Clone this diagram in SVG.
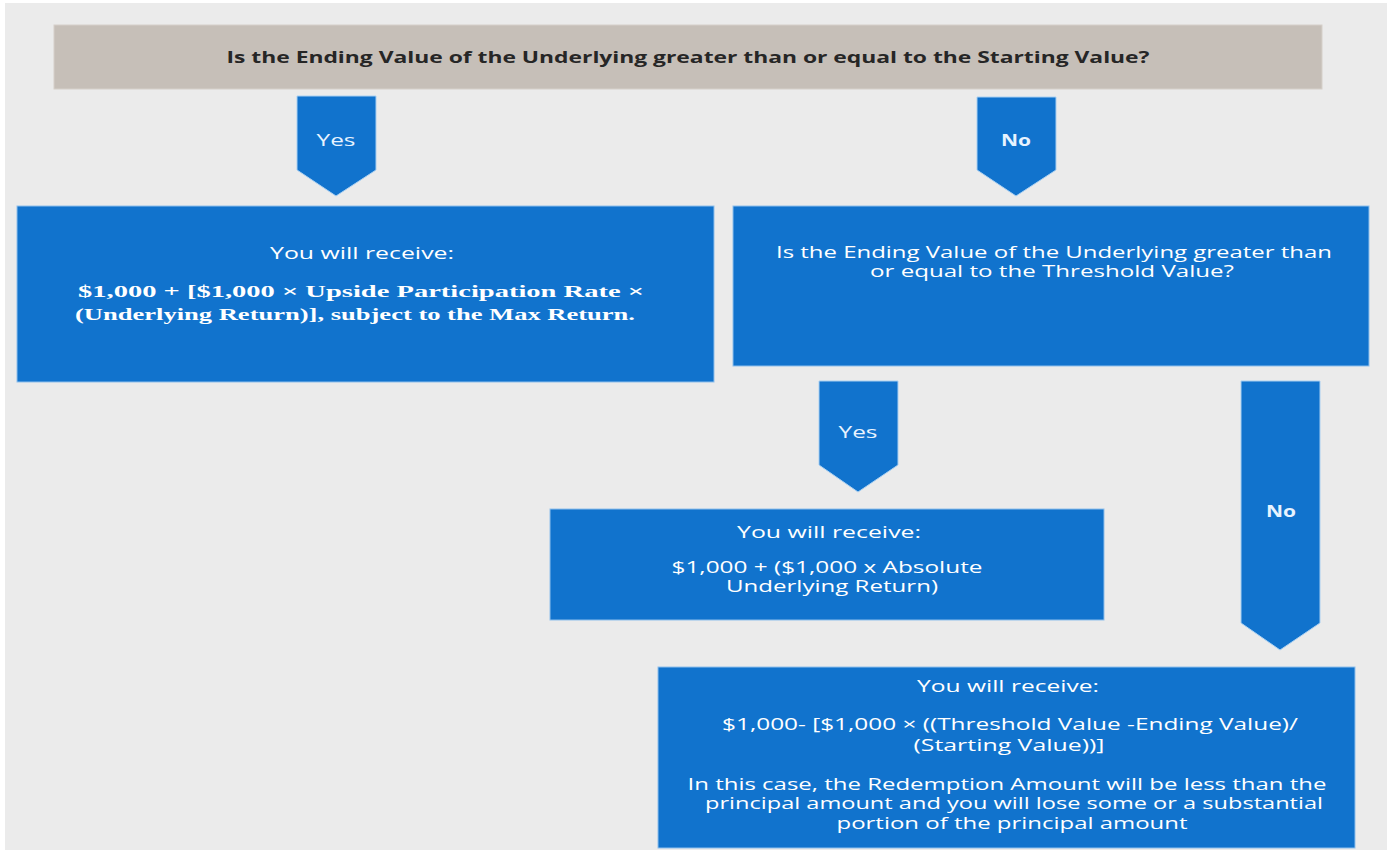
<svg xmlns="http://www.w3.org/2000/svg" width="1393" height="852" viewBox="0 0 1393 852">
<style>
.box{fill:#1173cd;stroke:#8fc0ec;stroke-width:1}
.arrow{fill:#1173cd;stroke:#a9d0f2;stroke-width:1}
.bar{fill:#c6bfb8;stroke:#d6d0ca;stroke-width:1}
.t{font-family:"Open Sans","Liberation Sans",sans-serif;fill:#ffffff;text-anchor:middle;font-size:15.5px}
.lbl{font-family:"Open Sans","Liberation Sans",sans-serif;fill:#e8f3ff;text-anchor:middle;font-size:16px}
.s{font-family:"Liberation Serif","DejaVu Serif",serif;font-weight:bold;fill:#ffffff;text-anchor:middle;font-size:17px}
.title{font-family:"Open Sans","Liberation Sans",sans-serif;font-weight:bold;fill:#262626;text-anchor:middle;font-size:16px}
</style>
<rect x="0" y="0" width="1393" height="852" fill="#ffffff"/>
<rect x="5" y="3" width="1382" height="847" fill="#ebebeb"/>
<g id="connectors">
<g id="c-yes1">
<polygon class="arrow" points="297,96 376,96 376,170 336,196 297,170"/>
<text class="lbl" x="336" y="146" textLength="39" lengthAdjust="spacingAndGlyphs">Yes</text>
</g>
<g id="c-no1">
<polygon class="arrow" points="977,97 1056,97 1056,170 1016,196 977,170"/>
<text class="lbl" x="1016" y="146" font-weight="bold" textLength="30" lengthAdjust="spacingAndGlyphs">No</text>
</g>
<g id="c-yes2">
<polygon class="arrow" points="819,381 898,381 898,465 858,492 819,465"/>
<text class="lbl" x="858" y="438" textLength="39" lengthAdjust="spacingAndGlyphs">Yes</text>
</g>
<g id="c-no2">
<polygon class="arrow" points="1241,381 1320,381 1320,623 1280,650 1241,623"/>
<text class="lbl" x="1281" y="517" font-weight="bold" textLength="30" lengthAdjust="spacingAndGlyphs">No</text>
</g>
</g>
<g id="q1">
<rect class="bar" x="54" y="25" width="1268" height="64"/>
<text class="title" x="688" y="63" textLength="923" lengthAdjust="spacingAndGlyphs">Is the Ending Value of the Underlying greater than or equal to the Starting Value?</text>
</g>
<g id="r1">
<rect class="box" x="17" y="206" width="697" height="176"/>
<text class="t" x="362" y="259" textLength="184" lengthAdjust="spacingAndGlyphs">You will receive:</text>
<text class="s" x="361" y="297" textLength="566" lengthAdjust="spacingAndGlyphs">$1,000 + [$1,000  × Upside Participation Rate  ×</text>
<text class="s" x="355" y="320" textLength="560" lengthAdjust="spacingAndGlyphs">(Underlying Return)], subject to the Max Return.</text>
</g>
<g id="q2">
<rect class="box" x="733" y="206" width="636" height="160"/>
<text class="t" x="1054" y="258" textLength="556" lengthAdjust="spacingAndGlyphs">Is the Ending Value of the Underlying greater than</text>
<text class="t" x="1052" y="277" textLength="364" lengthAdjust="spacingAndGlyphs">or equal to the Threshold Value?</text>
</g>
<g id="r2">
<rect class="box" x="550" y="509" width="554" height="111"/>
<text class="t" x="829" y="538" textLength="184" lengthAdjust="spacingAndGlyphs">You will receive:</text>
<text class="t" x="827" y="573" textLength="311" lengthAdjust="spacingAndGlyphs">$1,000 + ($1,000 x Absolute</text>
<text class="t" x="832" y="592" textLength="212" lengthAdjust="spacingAndGlyphs">Underlying Return)</text>
</g>
<g id="r3">
<rect class="box" x="658" y="667" width="697" height="181"/>
<text class="t" x="1008" y="692" textLength="182" lengthAdjust="spacingAndGlyphs">You will receive:</text>
<text class="t" x="1010" y="730" textLength="576" lengthAdjust="spacingAndGlyphs">$1,000- [$1,000 × ((Threshold Value -Ending Value)/</text>
<text class="t" x="1009" y="751" textLength="191" lengthAdjust="spacingAndGlyphs">(Starting Value))]</text>
<text class="t" x="1007" y="790" textLength="639" lengthAdjust="spacingAndGlyphs">In this case, the Redemption Amount will be less than the</text>
<text class="t" x="1014" y="809" textLength="618" lengthAdjust="spacingAndGlyphs">principal amount and you will lose some or a substantial</text>
<text class="t" x="1012" y="829" textLength="351" lengthAdjust="spacingAndGlyphs">portion of the principal amount</text>
</g>
</svg>
